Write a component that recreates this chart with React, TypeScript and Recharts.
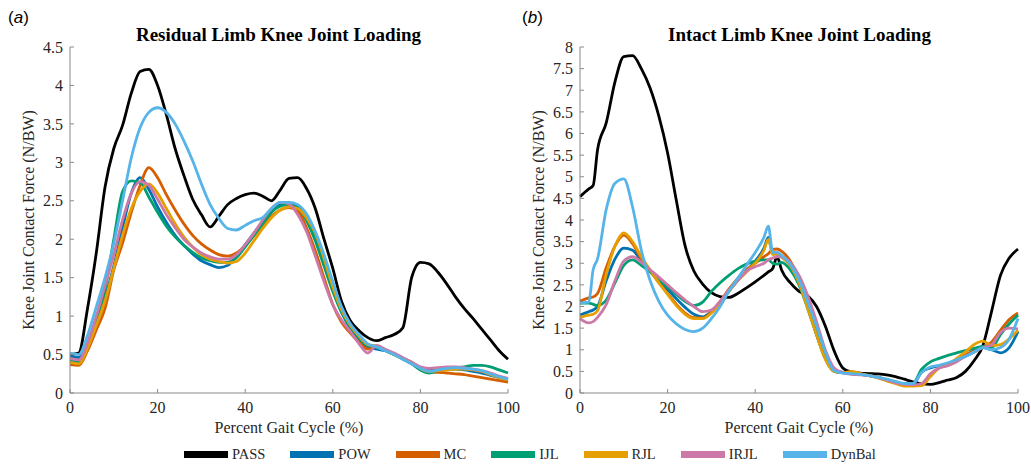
import React from 'react';
import { LineChart, Line, XAxis, YAxis, Label } from 'recharts';

// Series shared by both panels (drawn in this order, DynBal on top)
const SERIES_NAMES = ['PASS', 'POW', 'MC', 'IJL', 'RJL', 'IRJL', 'DynBal'];
const SERIES_COLORS = ['#000000', '#0072B2', '#D55E00', '#009E73', '#E69F00', '#CC79A7', '#56B4E9'];

const PCT_TICKS = [0, 20, 40, 60, 80, 100];
const RESIDUAL_Y_TICKS = [0, 0.5, 1, 1.5, 2, 2.5, 3, 3.5, 4, 4.5];
const INTACT_Y_TICKS = [0, 0.5, 1, 1.5, 2, 2.5, 3, 3.5, 4, 4.5, 5, 5.5, 6, 6.5, 7, 7.5, 8];

// (a) Residual limb knee joint contact force (N/BW) vs percent gait cycle
const residualPct = [0, 2, 4, 6, 8, 10, 12, 14, 16, 18, 20, 22, 24, 26, 28, 30, 32, 34, 36, 38, 40, 42, 44, 46, 48, 50, 52, 54, 56, 58, 60, 62, 64, 66, 68, 70, 72, 74, 76, 78, 80, 82, 84, 86, 88, 90, 92, 94, 96, 98, 100];
const residualPASS = [0.50, 0.52, 1.10, 1.82, 2.68, 3.18, 3.48, 3.90, 4.18, 4.21, 4.00, 3.62, 3.18, 2.83, 2.52, 2.32, 2.16, 2.30, 2.45, 2.53, 2.58, 2.60, 2.56, 2.50, 2.64, 2.79, 2.80, 2.66, 2.40, 2.00, 1.62, 1.19, 0.94, 0.81, 0.72, 0.68, 0.72, 0.76, 0.85, 1.50, 1.70, 1.68, 1.57, 1.42, 1.25, 1.10, 0.97, 0.83, 0.69, 0.55, 0.44];
const residualPOW = [0.48, 0.46, 0.65, 0.95, 1.25, 1.65, 2.15, 2.60, 2.80, 2.65, 2.42, 2.22, 2.05, 1.92, 1.81, 1.72, 1.67, 1.63, 1.66, 1.78, 1.93, 2.08, 2.22, 2.37, 2.45, 2.47, 2.42, 2.25, 2.00, 1.68, 1.35, 1.05, 0.84, 0.70, 0.60, 0.57, 0.55, 0.50, 0.45, 0.40, 0.33, 0.29, 0.30, 0.31, 0.31, 0.30, 0.28, 0.26, 0.23, 0.20, 0.17];
const residualMC = [0.37, 0.36, 0.55, 0.82, 1.10, 1.60, 1.95, 2.35, 2.70, 2.93, 2.80, 2.58, 2.38, 2.20, 2.05, 1.94, 1.86, 1.80, 1.78, 1.82, 1.92, 2.05, 2.18, 2.30, 2.38, 2.41, 2.37, 2.15, 1.85, 1.50, 1.15, 0.92, 0.78, 0.66, 0.57, 0.60, 0.56, 0.50, 0.45, 0.39, 0.32, 0.27, 0.27, 0.26, 0.25, 0.24, 0.22, 0.20, 0.18, 0.16, 0.14];
const residualIJL = [0.42, 0.40, 0.60, 0.92, 1.35, 2.00, 2.62, 2.76, 2.74, 2.55, 2.35, 2.17, 2.03, 1.92, 1.83, 1.76, 1.72, 1.70, 1.70, 1.76, 1.90, 2.05, 2.20, 2.35, 2.43, 2.45, 2.42, 2.25, 1.98, 1.65, 1.32, 1.05, 0.86, 0.72, 0.62, 0.60, 0.55, 0.50, 0.44, 0.38, 0.30, 0.26, 0.29, 0.32, 0.33, 0.34, 0.36, 0.36, 0.34, 0.30, 0.26];
const residualRJL = [0.40, 0.38, 0.58, 0.88, 1.20, 1.62, 2.05, 2.40, 2.62, 2.72, 2.60, 2.40, 2.20, 2.03, 1.90, 1.80, 1.74, 1.71, 1.69, 1.71, 1.82, 1.98, 2.14, 2.28, 2.38, 2.42, 2.40, 2.28, 2.08, 1.75, 1.38, 1.08, 0.88, 0.74, 0.63, 0.61, 0.56, 0.50, 0.45, 0.40, 0.32, 0.28, 0.29, 0.30, 0.31, 0.31, 0.30, 0.28, 0.24, 0.20, 0.17];
const residualIRJL = [0.45, 0.43, 0.65, 1.00, 1.40, 1.80, 2.25, 2.60, 2.75, 2.70, 2.52, 2.32, 2.15, 2.00, 1.90, 1.82, 1.77, 1.74, 1.74, 1.80, 1.93, 2.08, 2.25, 2.40, 2.48, 2.46, 2.32, 2.10, 1.78, 1.45, 1.15, 0.95, 0.80, 0.64, 0.52, 0.62, 0.57, 0.52, 0.46, 0.40, 0.34, 0.32, 0.33, 0.34, 0.34, 0.33, 0.31, 0.29, 0.26, 0.22, 0.19];
const residualDynBal = [0.52, 0.50, 0.75, 1.12, 1.50, 1.95, 2.50, 3.06, 3.45, 3.65, 3.71, 3.65, 3.50, 3.28, 3.02, 2.72, 2.45, 2.27, 2.14, 2.12, 2.18, 2.24, 2.28, 2.40, 2.48, 2.48, 2.45, 2.33, 2.10, 1.80, 1.45, 1.12, 0.90, 0.76, 0.64, 0.60, 0.55, 0.50, 0.44, 0.38, 0.32, 0.28, 0.30, 0.32, 0.33, 0.32, 0.31, 0.29, 0.25, 0.21, 0.18];

// (b) Intact limb knee joint contact force (N/BW) vs percent gait cycle
const intactPct = [0, 2, 3, 4, 6, 8, 10, 12, 14, 16, 18, 20, 22, 24, 26, 28, 30, 32, 34, 36, 38, 40, 42, 43, 44, 45, 46, 48, 50, 52, 54, 56, 58, 60, 62, 64, 66, 68, 70, 72, 74, 76, 78, 80, 82, 84, 86, 88, 90, 92, 94, 96, 98, 100];
const intactPASS = [4.54, 4.72, 4.80, 5.62, 6.25, 7.20, 7.78, 7.80, 7.50, 7.05, 6.40, 5.55, 4.45, 3.40, 2.82, 2.52, 2.32, 2.23, 2.21, 2.30, 2.43, 2.57, 2.72, 2.80, 2.88, 3.15, 2.85, 2.55, 2.35, 2.25, 2.00, 1.55, 0.98, 0.58, 0.48, 0.46, 0.45, 0.44, 0.42, 0.38, 0.32, 0.26, 0.21, 0.20, 0.24, 0.30, 0.36, 0.50, 0.75, 1.10, 1.90, 2.72, 3.12, 3.33];
const intactPOW = [1.80, 1.88, 1.92, 2.00, 2.60, 3.10, 3.35, 3.30, 3.05, 2.82, 2.60, 2.40, 2.18, 1.98, 1.82, 1.76, 1.88, 2.10, 2.35, 2.60, 2.82, 3.05, 3.35, 3.60, 3.22, 3.22, 3.15, 2.95, 2.58, 2.00, 1.40, 0.85, 0.52, 0.48, 0.45, 0.43, 0.40, 0.36, 0.31, 0.25, 0.20, 0.20, 0.48, 0.58, 0.63, 0.68, 0.76, 0.85, 0.95, 1.05, 1.00, 0.93, 1.05, 1.42];
const intactMC = [2.12, 2.20, 2.22, 2.30, 2.90, 3.40, 3.65, 3.45, 3.10, 2.82, 2.55, 2.30, 2.05, 1.85, 1.74, 1.73, 1.88, 2.12, 2.40, 2.65, 2.85, 3.00, 3.15, 3.22, 3.32, 3.33, 3.28, 3.05, 2.62, 2.00, 1.35, 0.80, 0.50, 0.47, 0.46, 0.44, 0.41, 0.36, 0.30, 0.24, 0.18, 0.17, 0.18, 0.42, 0.58, 0.64, 0.75, 0.88, 0.98, 1.06, 1.18, 1.45, 1.70, 1.85];
const intactIJL = [2.08, 2.08, 2.05, 2.02, 2.15, 2.55, 2.95, 3.08, 2.95, 2.80, 2.62, 2.45, 2.28, 2.12, 2.02, 2.10, 2.35, 2.55, 2.72, 2.87, 2.98, 3.05, 3.08, 3.08, 3.00, 2.98, 3.02, 2.85, 2.50, 1.95, 1.35, 0.80, 0.50, 0.47, 0.45, 0.43, 0.40, 0.36, 0.30, 0.25, 0.21, 0.22, 0.55, 0.72, 0.80, 0.87, 0.93, 0.98, 1.03, 1.08, 1.05, 1.35, 1.60, 1.80];
const intactRJL = [1.75, 1.80, 1.82, 1.90, 2.75, 3.40, 3.70, 3.50, 3.15, 2.85, 2.55, 2.28, 2.02, 1.82, 1.72, 1.72, 1.85, 2.08, 2.35, 2.60, 2.80, 3.00, 3.30, 3.55, 3.20, 3.22, 3.15, 2.95, 2.55, 1.95, 1.35, 0.78, 0.50, 0.47, 0.50, 0.45, 0.40, 0.35, 0.28, 0.22, 0.16, 0.16, 0.17, 0.38, 0.58, 0.66, 0.80, 0.95, 1.12, 1.20, 1.10, 1.12, 1.25, 1.45];
const intactIRJL = [1.72, 1.62, 1.65, 1.75, 2.05, 2.60, 3.05, 3.15, 3.02, 2.85, 2.68, 2.50, 2.32, 2.15, 2.00, 1.88, 1.92, 2.12, 2.38, 2.60, 2.82, 2.92, 3.00, 3.08, 3.12, 3.15, 3.15, 3.02, 2.72, 2.25, 1.65, 1.00, 0.58, 0.47, 0.43, 0.42, 0.40, 0.36, 0.30, 0.24, 0.20, 0.19, 0.22, 0.45, 0.58, 0.63, 0.72, 0.85, 0.95, 1.05, 1.12, 1.40, 1.50, 1.48];
const intactDynBal = [2.08, 2.10, 2.85, 3.10, 4.25, 4.85, 4.95, 4.30, 3.30, 2.60, 2.12, 1.80, 1.60, 1.47, 1.42, 1.50, 1.72, 2.00, 2.35, 2.65, 2.95, 3.25, 3.60, 3.86, 3.25, 3.25, 3.18, 2.98, 2.62, 2.10, 1.55, 0.95, 0.52, 0.46, 0.45, 0.43, 0.40, 0.36, 0.32, 0.27, 0.22, 0.22, 0.48, 0.60, 0.64, 0.70, 0.77, 0.85, 0.95, 1.05, 1.00, 1.05, 1.25, 1.72];

type Row = { [key: string]: number };

function buildRows(pct: number[], series: number[][]): Row[] {
  return pct.map((p, i) => {
    const row: Row = { pct: p };
    SERIES_NAMES.forEach((name, k) => {
      row[name] = series[k][i];
    });
    return row;
  });
}

const residualRows = buildRows(residualPct, [residualPASS, residualPOW, residualMC, residualIJL, residualRJL, residualIRJL, residualDynBal]);
const intactRows = buildRows(intactPct, [intactPASS, intactPOW, intactMC, intactIJL, intactRJL, intactIRJL, intactDynBal]);

const SERIF = "'Liberation Serif', 'Times New Roman', Times, serif";
const SANS = "'Liberation Sans', Arial, Helvetica, sans-serif";
const AXIS_GREY = '#8a8a8a';
const TEXT_DARK = '#262626';

const tickStyle = { fill: TEXT_DARK, fontSize: 16, fontFamily: SERIF, style: { fontFamily: SERIF } };

type PanelProps = {
  rows: Row[];
  yMax: number;
  yTicks: number[];
  left: number;
  width: number;
  yAxisWidth: number;
  rightMargin: number;
  yLabelOffset: number;
};

function Panel({ rows, yMax, yTicks, left, width, yAxisWidth, rightMargin, yLabelOffset }: PanelProps) {
  return (
    <div style={{ position: 'absolute', left, top: 0, fontFamily: SERIF }}>
      <LineChart
        width={width}
        height={467}
        data={rows}
        margin={{ top: 47, right: rightMargin, bottom: 24, left: 0 }}
        style={{ fontFamily: SERIF }}
      >
        <XAxis
          dataKey="pct"
          type="number"
          domain={[0, 100]}
          ticks={PCT_TICKS}
          interval={0}
          height={50}
          stroke={AXIS_GREY}
          tickSize={-4}
          tickMargin={13}
          tick={tickStyle}
        >
          <Label
            value="Percent Gait Cycle (%)"
            position="insideBottom"
            offset={10}
            fill={TEXT_DARK}
            fontSize={16}
            fontFamily={SERIF}
            style={{ fontFamily: SERIF }}
          />
        </XAxis>
        <YAxis
          type="number"
          domain={[0, yMax]}
          ticks={yTicks}
          interval={0}
          width={yAxisWidth}
          stroke={AXIS_GREY}
          tickSize={-4}
          tickMargin={11}
          tick={tickStyle}
        >
          <Label
            value="Knee Joint Contact Force (N/BW)"
            angle={-90}
            position="insideLeft"
            offset={yLabelOffset}
            fill={TEXT_DARK}
            fontSize={16}
            fontFamily={SERIF}
            style={{ textAnchor: 'middle', fontFamily: SERIF }}
          />
        </YAxis>
        {SERIES_NAMES.map((name, k) => (
          <Line
            key={name}
            type="monotone"
            dataKey={name}
            stroke={SERIES_COLORS[k]}
            strokeWidth={2.8}
            dot={false}
            activeDot={false}
            isAnimationActive={false}
          />
        ))}
      </LineChart>
    </div>
  );
}

function PanelTag({ letter, left }: { letter: string; left: number }) {
  return (
    <div
      style={{
        position: 'absolute',
        left,
        top: 9,
        fontFamily: SANS,
        fontSize: 17,
        lineHeight: '17px',
        color: '#000',
        whiteSpace: 'nowrap',
      }}
    >
      (<span style={{ fontStyle: 'italic' }}>{letter}</span>)
    </div>
  );
}

function Title({ text, center }: { text: string; center: number }) {
  return (
    <div
      style={{
        position: 'absolute',
        left: center,
        top: 25,
        transform: 'translateX(-50%)',
        fontFamily: SERIF,
        fontWeight: 'bold',
        fontSize: 19,
        lineHeight: '19px',
        color: '#000',
        whiteSpace: 'nowrap',
      }}
    >
      {text}
    </div>
  );
}

function Legend() {
  return (
    <div
      style={{
        position: 'absolute',
        left: 184,
        top: 446,
        height: 16,
        display: 'flex',
        alignItems: 'center',
        fontFamily: SERIF,
        fontSize: 14.5,
        lineHeight: '16px',
        color: TEXT_DARK,
        whiteSpace: 'nowrap',
      }}
    >
      {SERIES_NAMES.map((name, k) => (
        <div key={name} style={{ display: 'flex', alignItems: 'center', marginRight: 25 }}>
          <span
            style={{
              display: 'inline-block',
              width: 44,
              height: 7,
              background: SERIES_COLORS[k],
              marginRight: 4,
            }}
          />
          <span>{name}</span>
        </div>
      ))}
    </div>
  );
}

export default function App() {
  return (
    <div
      style={{
        position: 'absolute',
        left: 0,
        top: 0,
        width: 1031,
        height: 467,
        background: '#ffffff',
        overflow: 'hidden',
        fontFamily: SERIF,
      }}
    >
      <Panel
        rows={residualRows}
        yMax={4.5}
        yTicks={RESIDUAL_Y_TICKS}
        left={0}
        width={530}
        yAxisWidth={70}
        rightMargin={22}
        yLabelOffset={28}
      />
      <Panel
        rows={intactRows}
        yMax={8}
        yTicks={INTACT_Y_TICKS}
        left={512}
        width={519}
        yAxisWidth={68}
        rightMargin={13}
        yLabelOffset={26}
      />
      <PanelTag letter="a" left={8} />
      <PanelTag letter="b" left={522} />
      <Title text="Residual Limb Knee Joint Loading" center={278.5} />
      <Title text="Intact Limb Knee Joint Loading" center={799.5} />
      <Legend />
    </div>
  );
}
